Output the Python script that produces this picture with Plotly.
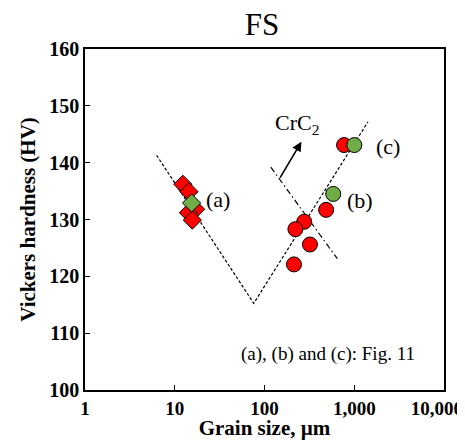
import numpy as np
import plotly.graph_objects as go

# Data
dia_red_x = [12.3, 14.4, 17.1, 14.2, 15.7]
dia_red_y = [136.2, 134.9, 131.8, 131.2, 129.9]
dia_green_x = [15.4]
dia_green_y = [132.9]

cir_red_x = [770, 486, 277, 221, 321, 213]
cir_red_y = [143.1, 131.7, 129.6, 128.3, 125.6, 122.1]
cir_green_x = [1002, 583]
cir_green_y = [143.1, 134.5]

v_line_x = [6.28, 75.9, 1423]
v_line_y = [141.3, 115.25, 147.2]

crc2_line_x = [117.7, 648]
crc2_line_y = [139.2, 123.1]

arrow_tail = (146, 137.1)
arrow_head = (258, 143.7)

x_tickvals = [1, 10, 100, 1000, 10000]
x_ticktext = ["1", "10", "100", "1,000", "10,000\u00a0\u00a0\u00a0"]
y_tickvals = [100, 110, 120, 130, 140, 150, 160]

FONT = "Liberation Serif"

fig = go.Figure()

fig.add_trace(go.Scatter(x=v_line_x, y=v_line_y, mode="lines",
                         line=dict(color="black", width=1.2, dash="3px,2px"),
                         showlegend=False, hoverinfo="skip"))
fig.add_trace(go.Scatter(x=crc2_line_x, y=crc2_line_y, mode="lines",
                         line=dict(color="black", width=1.2, dash="6px,3px,1.5px,3px"),
                         showlegend=False, hoverinfo="skip"))

fig.add_trace(go.Scatter(x=dia_red_x, y=dia_red_y, mode="markers",
                         marker=dict(symbol="diamond", size=14, color="#FF0000",
                                     line=dict(color="black", width=1)),
                         showlegend=False))
fig.add_trace(go.Scatter(x=dia_green_x, y=dia_green_y, mode="markers",
                         marker=dict(symbol="diamond", size=14, color="#70AD47",
                                     line=dict(color="black", width=1)),
                         showlegend=False))
fig.add_trace(go.Scatter(x=cir_red_x, y=cir_red_y, mode="markers",
                         marker=dict(symbol="circle", size=15, color="#FF0000",
                                     line=dict(color="black", width=1)),
                         showlegend=False))
fig.add_trace(go.Scatter(x=cir_green_x, y=cir_green_y, mode="markers",
                         marker=dict(symbol="circle", size=15, color="#70AD47",
                                     line=dict(color="black", width=1)),
                         showlegend=False))

ann_font = dict(family=FONT, size=22, color="black")
annotations = [
    dict(x=np.log10(30.3), y=133.6, text="(a)", showarrow=False, font=ann_font),
    dict(x=np.log10(1164), y=133.4, text="(b)", showarrow=False, font=ann_font),
    dict(x=np.log10(2362), y=142.9, text="(c)", showarrow=False, font=ann_font),
    dict(x=np.log10(229), y=146.8, text="CrC<sub>2</sub>", showarrow=False, font=ann_font),
    dict(x=np.log10(10 ** 3.704), y=106.3, text="(a), (b) and (c): Fig. 11", showarrow=False,
         xanchor="right", font=dict(family=FONT, size=19, color="black")),
    dict(x=np.log10(arrow_head[0]), y=arrow_head[1], ax=np.log10(arrow_tail[0]), ay=arrow_tail[1],
         xref="x", yref="y", axref="x", ayref="y", text="", showarrow=True,
         arrowhead=2, arrowsize=1.2, arrowwidth=1.6, arrowcolor="black"),
]

# page body has an 8px margin: figure is offset by 8px right/down
fig.update_layout(
    width=465, height=432,
    margin=dict(l=77, r=29, t=41, b=50),
    paper_bgcolor="white", plot_bgcolor="white",
    title=dict(text="FS", x=254 / 465, xanchor="center", y=1 - 16 / 432, yanchor="middle",
               yref="container", font=dict(family=FONT, size=31, color="black")),
    annotations=annotations,
    showlegend=False,
)
fig.update_xaxes(type="log", range=[0, 4], tickvals=x_tickvals, ticktext=x_ticktext,
                 ticks="inside", ticklen=5, tickcolor="black", showgrid=False, zeroline=False,
                 showline=True, linecolor="black", linewidth=1.5, mirror=True, automargin=False,
                 ticklabeloverflow="allow",
                 tickfont=dict(family=FONT, size=19, color="black", weight="bold"),
                 title=dict(text="Grain size, µm", standoff=8,
                            font=dict(family=FONT, size=21, color="black", weight="bold")))
fig.update_yaxes(range=[100, 160], tickvals=y_tickvals,
                 ticks="inside", ticklen=5, tickcolor="black", showgrid=False, zeroline=False,
                 showline=True, linecolor="black", linewidth=1.5, mirror=True, automargin=False,
                 ticklabeloverflow="allow",
                 tickfont=dict(family=FONT, size=20, color="black", weight="bold"),
                 title=dict(text="Vickers hardness (HV)", standoff=8,
                            font=dict(family=FONT, size=21, color="black", weight="bold")))

fig.write_html("out.html")
